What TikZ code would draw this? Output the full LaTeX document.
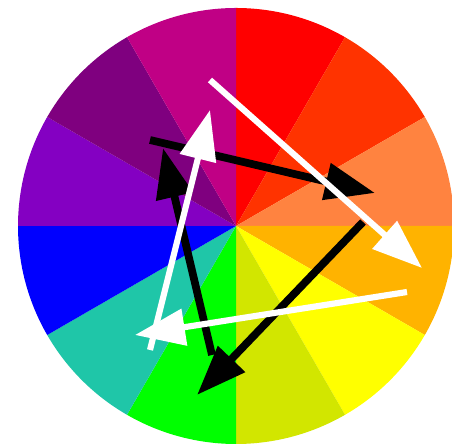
\documentclass[tikz,border=0pt]{standalone}
\usetikzlibrary{arrows.meta}
\definecolor{wheel1}{HTML}{FF0000}
\definecolor{wheel2}{HTML}{FF3300}
\definecolor{wheel3}{HTML}{FF8340}
\definecolor{wheel4}{HTML}{FFB300}
\definecolor{wheel5}{HTML}{FFFF00}
\definecolor{wheel6}{HTML}{D2E600}
\definecolor{wheel7}{HTML}{00FF00}
\definecolor{wheel8}{HTML}{1FC6A8}
\definecolor{wheel9}{HTML}{0000FF}
\definecolor{wheel10}{HTML}{8400C2}
\definecolor{wheel11}{HTML}{7F007F}
\definecolor{wheel12}{HTML}{C00085}
\begin{document}
\begin{tikzpicture}[x=0.02cm,y=0.02cm,
    blackarrow/.style={black,line width=4.4pt,-{Triangle[length=1cm,width=0.72cm]}},
    whitearrow/.style={white,line width=3.5pt,-{Triangle[length=1cm,width=0.72cm]}}]
  \useasboundingbox (0,0) rectangle (452,448);
  \fill[white] (0,0) rectangle (452,448);

  % Farbkreis mit 12 Sektoren
  \coordinate (c) at (236,222);
  \foreach \i in {1,...,12}{
    \pgfmathsetmacro\a{120-30*\i}
    \fill[wheel\i] (c) -- ++(\a:218) arc[start angle=\a, end angle=\a-30, radius=218] -- cycle;
  }

  % schwarzes Dreieck
  \coordinate (bA) at (150,308);
  \coordinate (bB) at (375,255);
  \coordinate (bC0) at (363,226);
  \coordinate (bC) at (197,53);
  \coordinate (bD0) at (212,93);
  \coordinate (bD) at (163,300);
  \draw[blackarrow] (bA) -- (bB);
  \draw[blackarrow] (bC0) -- (bC);
  \draw[blackarrow] (bD0) -- (bD);

  % weisses Dreieck
  \coordinate (wA) at (210,368);
  \coordinate (wB) at (422,180);
  \coordinate (wC0) at (407,156);
  \coordinate (wC) at (135,113);
  \coordinate (wD0) at (150,98);
  \coordinate (wD) at (210,338);
  \draw[whitearrow] (wA) -- (wB);
  \draw[whitearrow] (wC0) -- (wC);
  \draw[whitearrow] (wD0) -- (wD);
\end{tikzpicture}
\end{document}
